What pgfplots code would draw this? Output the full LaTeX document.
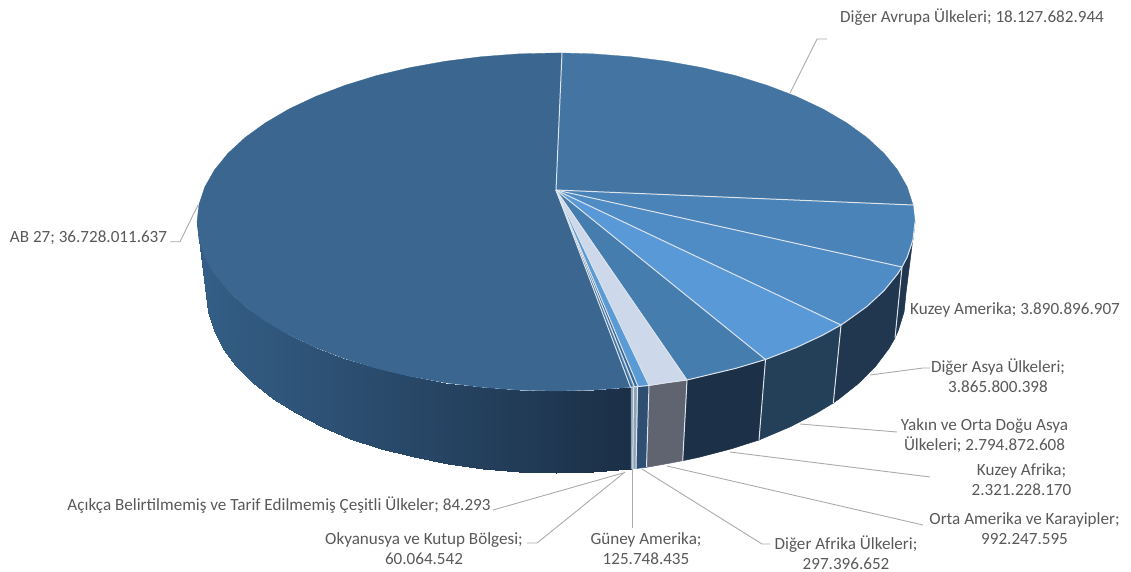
\documentclass[border=0pt]{standalone}
\usepackage{pgfplots}
\pgfplotsset{compat=1.18}
\usepackage{fontspec}
\setmainfont{Carlito}
\definecolor{ablight}{HTML}{345E86}
\definecolor{abdark}{HTML}{1B2F46}
\definecolor{lbl}{HTML}{595959}
\definecolor{leader}{HTML}{ABABAB}
\definecolor{edge}{HTML}{DDE4EC}
\definecolor{sideA}{HTML}{20374F}
\definecolor{sideB}{HTML}{243F58}
\definecolor{sideC}{HTML}{1C3047}
\definecolor{sideD}{HTML}{5F6470}
\definecolor{sideE}{HTML}{2F4F72}
\definecolor{sideF}{HTML}{8FA3B8}
\definecolor{topAB}{HTML}{3A668F}
\definecolor{topAvrupa}{HTML}{4474A2}
\definecolor{topKuzey}{HTML}{4A83B8}
\definecolor{topAsya}{HTML}{4F8BC5}
\definecolor{topYakin}{HTML}{5A99D8}
\definecolor{topAfrika}{HTML}{447DAE}
\definecolor{topOrta}{HTML}{CDD9EA}
\definecolor{topDigerAf}{HTML}{5B9BD5}
\definecolor{topGuney}{HTML}{3A668F}
\tikzset{lab/.style={font=\fontsize{17.1}{20}\selectfont,text=lbl,inner sep=0pt,align=center}}
\newcommand{\side}[2]{\addplot[fill=#1,draw=#1,line width=0.5pt] coordinates {#2};}
\newcommand{\topslice}[2]{\addplot[fill=#1,draw=#1,line width=0.3pt,line join=round] coordinates {#2};}
\newcommand{\sideline}[1]{\addplot[draw=edge,line width=1pt] coordinates {#1};}
\newcommand{\leader}[1]{\addplot[draw=leader,line width=0.9pt] coordinates {#1};}
\begin{document}
\begin{tikzpicture}
\useasboundingbox (0,0) rectangle (1131pt,572pt);
\begin{axis}[
    at={(0,0)},anchor=south west,
    scale only axis,width=1131pt,height=572pt,
    xmin=0,xmax=1131,ymin=0,ymax=572,y dir=reverse,
    hide axis,clip=false,no markers,
    colormap={abside}{color=(ablight) color=(abdark)}
]
% side of AB 27, colour follows x
\addplot[patch,patch type=rectangle,shader=interp,point meta=x,point meta min=206,point meta max=631] coordinates {
(199.0,239.7)(197,222)(206,293)(207.9,311.8)
(204.8,257.1)(199.0,239.7)(207.9,311.8)(213.7,330.4)
(214.6,274.2)(204.8,257.1)(213.7,330.4)(223.1,348.6)
(228.0,290.7)(214.6,274.2)(223.1,348.6)(236.3,366.2)
(245.1,306.5)(228.0,290.7)(236.3,366.2)(252.9,383)
(265.6,321.3)(245.1,306.5)(252.9,383)(272.8,398.8)
(289.2,335.1)(265.6,321.3)(272.8,398.8)(295.9,413.4)
(315.8,347.6)(289.2,335.1)(295.9,413.4)(321.8,426.8)
(345.0,358.7)(315.8,347.6)(321.8,426.8)(350.3,438.6)
(376.5,368.4)(345.0,358.7)(350.3,438.6)(381,448.9)
(410.0,376.4)(376.5,368.4)(381,448.9)(413.6,457.4)
(445.1,382.7)(410.0,376.4)(413.6,457.4)(447.8,464.2)
(481.4,387.3)(445.1,382.7)(447.8,464.2)(483.2,469.1)
(518.5,390.1)(481.4,387.3)(483.2,469.1)(519.4,472)
(556,391)(518.5,390.1)(519.4,472)(556,473)
(593.5,390.1)(556,391)(556,473)(592.6,472)
(631,387.3)(593.5,390.1)(592.6,472)(631,469)
};
% sides of the other slices
\side{sideA}{(915,222)(913,239.7)(907.2,257.1)(902,267)(897.4,274.2)(884,290.7)(866.9,306.5)(846.4,321.3)(841,325)(833.3,403)(839.2,398.8)(859.1,383)(875.7,366.2)(888.9,348.6)(895,338)(898.3,330.4)(904.1,311.8)(906,293)(915,222)}
\side{sideB}{(841,325)(822.8,335.1)(796.2,347.6)(765.5,359.5)(759,440)(790.2,426.8)(816.1,413.4)(833.3,403)(841,325)}
\side{sideC}{(765.5,359.5)(735.5,368.4)(702,376.4)(687,380)(682.7,460.7)(698.4,457.4)(731,448.9)(759,440)(765.5,359.5)}
\side{sideD}{(687,380)(666.9,382.7)(649,385.5)(646.5,467.3)(664.2,464.2)(682.7,460.7)(687,380)}
\side{sideE}{(649,385.5)(638,386.5)(636,468.5)(646.5,467.3)(649,385.5)}
\side{sideF}{(638,386.5)(631,387.3)(631,469)(636,468.5)(638,386.5)}
\sideline{(902,267)(895,338)}
\sideline{(841,325)(833.3,403)}
\sideline{(765.5,359.5)(759,440)}
\sideline{(687,380)(682.7,460.7)}
\sideline{(649,385.5)(646.5,467.3)}
\sideline{(637.5,386.5)(636,468.5)}
\sideline{(633.5,387)(632.8,469)}
% top face, one polygon for each slice
\topslice{topAB}{(556,190)(630.6,387.3)(593.5,390.1)(556,391)(518.5,390.1)(481.4,387.3)(445.1,382.7)(410,376.4)(376.5,368.4)(345,358.7)(315.8,347.6)(289.2,335.1)(265.6,321.3)(245.1,306.5)(228,290.7)(214.6,274.2)(204.8,257.1)(199,239.7)(197,222)(199,204.3)(204.8,186.9)(214.6,169.8)(228,153.3)(245.1,137.5)(265.6,122.7)(289.2,108.9)(315.8,96.4)(345,85.3)(376.5,75.6)(410,67.6)(445.1,61.3)(481.4,56.7)(518.5,53.9)(556,53)(562,53)(556,190)}
\topslice{topAvrupa}{(556,190)(562,53)(593.5,53.9)(630.6,56.7)(666.9,61.3)(702,67.6)(735.5,75.6)(767,85.3)(796.2,96.4)(822.8,108.9)(846.4,122.7)(866.9,137.5)(884,153.3)(897.4,169.8)(907.2,186.9)(913,205)(556,190)}
\topslice{topKuzey}{(556,190)(913,205)(915,222)(913,239.7)(907.2,257.1)(902,267)(556,190)}
\topslice{topAsya}{(556,190)(902,267)(897.4,274.2)(884,290.7)(866.9,306.5)(846.4,321.3)(841,325)(556,190)}
\topslice{topYakin}{(556,190)(841,325)(822.8,335.1)(796.2,347.6)(765.5,359.5)(556,190)}
\topslice{topAfrika}{(556,190)(765.5,359.5)(735.5,368.4)(702,376.4)(687,380)(556,190)}
\topslice{topOrta}{(556,190)(687,380)(666.9,382.7)(649,385.5)(556,190)}
\topslice{topDigerAf}{(556,190)(649,385.5)(638,386.5)(556,190)}
\topslice{topGuney}{(556,190)(638,386.5)(634.5,386.9)(556,190)}
\topslice{topDigerAf}{(556,190)(634.5,386.9)(632.5,387.1)(556,190)}
\topslice{topAB}{(556,190)(632.5,387.1)(630.6,387.3)(556,190)}
% spokes and the lit part of the rim
\sideline{(556,190)(562,53)}
\sideline{(556,190)(913,205)}
\sideline{(556,190)(902,267)}
\sideline{(556,190)(841,325)}
\sideline{(556,190)(765.5,359.5)}
\sideline{(556,190)(687,380)}
\sideline{(556,190)(649,385.5)}
\sideline{(556,190)(638,386.5)}
\sideline{(556,190)(634.5,386.9)}
\sideline{(556,190)(630.6,387.3)}
\sideline{(915,222)(913,239.7)(907.2,257.1)(902,267)(897.4,274.2)(884,290.7)(866.9,306.5)(846.4,321.3)(841,325)(822.8,335.1)(796.2,347.6)(765.5,359.5)(735.5,368.4)(702,376.4)(687,380)(666.9,382.7)(649,385.5)(638,386.5)(630.6,387.3)}
% leader lines
\leader{(790,93)(817,39)(827,39)}
\leader{(198,205)(180,241.7)(170,241.7)}
\leader{(870,375)(923,368)(930,368)}
\leader{(800,424)(897,432)}
\leader{(730,452)(930,477)}
\leader{(667,466)(923,525)}
\leader{(642,469)(762,544)(770,544)}
\leader{(632.5,469)(632.5,528)}
\leader{(625,472)(537,543)(527,543)}
\leader{(623,473)(493,510)}
% labels
\node[lab] at (axis cs:972,17) {Diğer Avrupa Ülkeleri; 18.127.682.944};
\node[lab] at (axis cs:1015,310) {Kuzey Amerika; 3.890.896.907};
\node[lab] at (axis cs:998,375.5) {Diğer Asya Ülkeleri;\\3.865.800.398};
\node[lab] at (axis cs:984.5,436) {Yakın ve Orta Doğu Asya\\Ülkeleri; 2.794.872.608};
\node[lab] at (axis cs:1021.5,480) {Kuzey Afrika;\\2.321.228.170};
\node[lab] at (axis cs:1024.5,528.5) {Orta Amerika ve Karayipler;\\992.247.595};
\node[lab] at (axis cs:846,552.5) {Diğer Afrika Ülkeleri;\\297.396.652};
\node[lab] at (axis cs:646,549) {Güney Amerika;\\125.748.435};
\node[lab] at (axis cs:424,549) {Okyanusya ve Kutup Bölgesi;\\60.064.542};
\node[lab] at (axis cs:279,505.5) {Açıkça Belirtilmemiş ve Tarif Edilmemiş Çeşitli Ülkeler; 84.293};
\node[lab] at (axis cs:88.5,237.5) {AB 27; 36.728.011.637};
\end{axis}
\end{tikzpicture}
\end{document}
